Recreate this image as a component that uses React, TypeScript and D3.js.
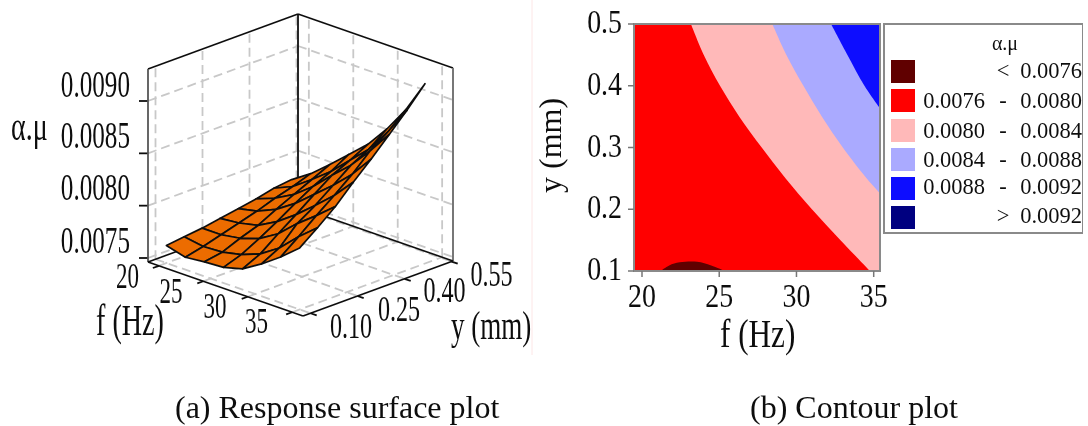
// App.tsx
import React from 'react';
import * as d3 from 'd3';

const SERIF = '"Liberation Serif", serif';

// surface nodes
const fGrid = [20, 22.14, 24.29, 26.43, 28.57, 30.71, 32.86, 35];
const yGrid = [0.1, 0.157, 0.214, 0.271, 0.329, 0.386, 0.443, 0.5];
const zRow0 = [0.00763, 0.00758, 0.0076, 0.00761, 0.00766, 0.00777, 0.0079, 0.00805];
const zRow1 = [0.00765, 0.00762, 0.00763, 0.00767, 0.00774, 0.00786, 0.00803, 0.00818];
const zRow2 = [0.00767, 0.00767, 0.0077, 0.00776, 0.00787, 0.00803, 0.00817, 0.00832];
const zRow3 = [0.0077, 0.00772, 0.00776, 0.00786, 0.00799, 0.00814, 0.0083, 0.00849];
const zRow4 = [0.00773, 0.00777, 0.00785, 0.00797, 0.00812, 0.00827, 0.00844, 0.00865];
const zRow5 = [0.00776, 0.00783, 0.00793, 0.00807, 0.00824, 0.0084, 0.0086, 0.00882];
const zRow6 = [0.0078, 0.00788, 0.00801, 0.00815, 0.00832, 0.00849, 0.00872, 0.00899];
const zRow7 = [0.00782, 0.00794, 0.00809, 0.00825, 0.00841, 0.00862, 0.00887, 0.00918];
const zRows = [zRow0, zRow1, zRow2, zRow3, zRow4, zRow5, zRow6, zRow7];

const fTicks = [20, 25, 30, 35];
const yTicks3d = [0.1, 0.25, 0.4, 0.55];
const zTicks = [0.0075, 0.008, 0.0085, 0.009];

// contour boundaries, [f, y]
const line0076: [number, number][] = [[21.2, 0.1], [21.76, 0.109], [22.44, 0.114], [23.57, 0.115], [24.48, 0.109], [25.38, 0.1]];
const line0080: [number, number][] = [[23.17, 0.5], [24.0, 0.45], [25.05, 0.4], [26.3, 0.35], [27.75, 0.3], [29.3, 0.25], [31, 0.2], [32.85, 0.15], [34.77, 0.1]];
const line0084: [number, number][] = [[28.44, 0.5], [29.35, 0.45], [30.45, 0.4], [31.65, 0.35], [33, 0.3], [34.55, 0.25], [35.45, 0.225]];
const line0088: [number, number][] = [[32.24, 0.5], [33.3, 0.45], [34.4, 0.4], [35.45, 0.362]];
const contourF = [20, 25, 30, 35];
const contourY = [0.1, 0.2, 0.3, 0.4, 0.5];

const legendLow = ['', '0.0076', '0.0080', '0.0084', '0.0088', ''];
const legendMid = ['<', '-', '-', '-', '-', '>'];
const legendHigh = ['0.0076', '0.0080', '0.0084', '0.0088', '0.0092', '0.0092'];
const legendColors = ['#600000', '#ff0000', '#ffb9b9', '#aaaaff', '#0f0fff', '#000080'];

// 3d box projection
const fFrac = d3.scaleLinear().domain([20, 35]).range([0.07, 0.93]);
const yFrac = d3.scaleLinear().domain([0.1, 0.55]).range([0.05, 0.99]);
const zLift = d3.scaleLinear().domain([0.0075, 0.009]).range([4, 161]);
const zTop = 193;
const project = (u: number, v: number, lift: number): [number, number] => [
  148 + 155 * u + 150 * v,
  262 + 54 * u - 55 * v - lift,
];

// contour scales
const xC = d3.scaleLinear().domain([20, 35]).range([642, 873.7]);
const yC = d3.scaleLinear().domain([0.1, 0.5]).range([271, 24]);
const fMax = xC.invert(880);
const curveLine = d3.line<[number, number]>().x(d => xC(d[0])).y(d => yC(d[1])).curve(d3.curveCatmullRom);

const bandPath = (pts: [number, number][]) => {
  const last = pts[pts.length - 1];
  return `${curveLine(pts)}L${xC(fMax)},${yC(last[1])}L${xC(fMax)},${yC(0.5)}Z`;
};

const Squeezed = ({ x, y, sx = 1, size, anchor = 'start', children }: any) => (
  <text transform={`translate(${x},${y}) scale(${sx},1)`} fontSize={size} textAnchor={anchor} fill="#111">{children}</text>
);

const Seg = ({ a, b, ...rest }: any) => <line x1={a[0]} y1={a[1]} x2={b[0]} y2={b[1]} {...rest} />;

const dash = { stroke: '#c8c8c8', strokeWidth: 1.8, strokeDasharray: '9 5', fill: 'none' };
const solid = { stroke: '#111', strokeWidth: 1.8 };

const Surface = () => {
  const cells: React.ReactNode[] = [];
  for (let j = yGrid.length - 2; j >= 0; j--) {
    for (let i = 0; i < fGrid.length - 1; i++) {
      const corner = (a: number, b: number) => project(fFrac(fGrid[a]), yFrac(yGrid[b]), zLift(zRows[b][a]));
      const pts = [corner(i, j), corner(i + 1, j), corner(i + 1, j + 1), corner(i, j + 1)];
      cells.push(<polygon key={`${i}-${j}`} points={pts.join(' ')} fill="#ec6c00" stroke="#111" strokeWidth={1.7} strokeLinejoin="round" />);
    }
  }
  return <g>{cells}</g>;
};

export default function App() {
  return (
    <svg width={1088} height={426} style={{ position: 'absolute', left: 0, top: 0 }} fontFamily={SERIF}>
      <defs>
        <filter id="soft" x="0" y="0" width="100%" height="100%">
          <feGaussianBlur stdDeviation="0.5" />
        </filter>
      </defs>
      <rect width={1088} height={426} fill="#fff" />
      <g filter="url(#soft)">
        <line x1={532} x2={532} y1={0} y2={355} stroke="#fde6e6" />

        {/* walls and floor grid */}
        {zTicks.map(z => (
          <g key={z}>
            <Seg a={project(0, 0, zLift(z))} b={project(0, 1, zLift(z))} {...dash} />
            <Seg a={project(0, 1, zLift(z))} b={project(1, 1, zLift(z))} {...dash} />
            <Seg a={project(0, 0, zLift(z))} b={[project(0, 0, 0)[0] - 9, project(0, 0, zLift(z))[1]]} {...solid} />
          </g>
        ))}
        {yTicks3d.map(t => (
          <g key={t}>
            <Seg a={project(0, yFrac(t), 0)} b={project(0, yFrac(t), zTop)} {...dash} />
            <Seg a={project(0, yFrac(t), 0)} b={project(1, yFrac(t), 0)} {...dash} />
            <Seg a={project(1, yFrac(t), 0)} b={project(1.04, yFrac(t), 0)} {...solid} />
          </g>
        ))}
        {fTicks.map(t => (
          <g key={t}>
            <Seg a={project(fFrac(t), 1, 0)} b={project(fFrac(t), 1, zTop)} {...dash} />
            <Seg a={project(fFrac(t), 0, 0)} b={project(fFrac(t), 1, 0)} {...dash} />
            <Seg a={project(fFrac(t), 0, 0)} b={project(fFrac(t), -0.04, 0)} {...solid} />
          </g>
        ))}

        {/* box */}
        <Seg a={project(0, 0, zTop)} b={project(0, 1, zTop)} {...solid} />
        <Seg a={project(0, 1, zTop)} b={project(1, 1, zTop)} {...solid} />
        <Seg a={project(0, 0, 0)} b={project(0, 0, zTop)} {...solid} stroke="#555" />
        <Seg a={project(0, 1, 0)} b={project(0, 1, zTop)} {...solid} />
        <Seg a={project(1, 1, 0)} b={project(1, 1, zTop)} stroke="#777" strokeWidth={2} />
        <Seg a={project(0, 0, 0)} b={project(0, 1, 0)} {...solid} />
        <Seg a={project(0, 1, 0)} b={project(1, 1, 0)} {...solid} />
        <Seg a={project(0, 0, 0)} b={project(1, 0, 0)} {...solid} />
        <Seg a={project(1, 0, 0)} b={project(1, 1, 0)} {...solid} />

        <Surface />

        {/* 3d labels */}
        {zTicks.map((z, i) => (
          <Squeezed key={z} x={130} y={[253, 200, 148, 97][i]} sx={0.68} size={37} anchor="end">{d3.format('.4f')(z)}</Squeezed>
        ))}
        <Squeezed x={11} y={140} sx={0.7} size={40}>α.μ</Squeezed>
        {fTicks.map((t, i) => (
          <Squeezed key={t} x={[127.5, 171, 215, 256.5][i]} y={[288, 303, 318, 333][i]} sx={0.64} size={36} anchor="middle">{t}</Squeezed>
        ))}
        {yTicks3d.map((t, i) => (
          <Squeezed key={t} x={[351, 399, 444.5, 491.5][i]} y={[338, 320.5, 302, 286][i]} sx={0.67} size={36} anchor="middle">{t.toFixed(2)}</Squeezed>
        ))}
        <Squeezed x={96} y={335} sx={0.64} size={44}>f (Hz)</Squeezed>
        <Squeezed x={451} y={339} sx={0.66} size={41}>y (mm)</Squeezed>

        {/* contour plot */}
        <rect x={xC(fMax) - 246} y={yC(0.5)} width={246} height={247} fill="#ff0000" />
        <path d={bandPath(line0080)} fill="#ffb9b9" />
        <path d={bandPath(line0084)} fill="#aaaaff" />
        <path d={bandPath(line0088)} fill="#0f0fff" />
        <path d={`${curveLine(line0076)}Z`} fill="#600000" />
        <rect x={xC(fMax) - 246} y={yC(0.5)} width={246} height={247} fill="none" stroke="#8a8a8a" strokeWidth={2} />
        {contourF.map(t => (
          <g key={t}>
            <line x1={xC(t)} x2={xC(t)} y1={271} y2={277} stroke="#777" strokeWidth={1.5} />
            <Squeezed x={xC(t)} y={306.5} sx={0.82} size={34} anchor="middle">{t}</Squeezed>
          </g>
        ))}
        {contourY.map(t => (
          <g key={t}>
            <line x1={628} x2={634} y1={yC(t)} y2={yC(t)} stroke="#777" strokeWidth={1.5} />
            <Squeezed x={622} y={yC(t) + 9} sx={0.82} size={34} anchor="end">{t.toFixed(1)}</Squeezed>
          </g>
        ))}
        <Squeezed x={720} y={347} sx={0.8} size={39}>f (Hz)</Squeezed>
        <text transform="translate(561,193) rotate(-90)" fontSize={32} fill="#111">y (mm)</text>

        {/* legend */}
        <rect x={884} y={24} width={199} height={209} fill="#fff" stroke="#8a8a8a" strokeWidth={2} />
        <text x={1005} y={50} fontSize={20} textAnchor="middle" fill="#111">α.μ</text>
        {legendColors.map((c, i) => {
          const top = [60, 89, 119, 148, 177, 206][i];
          const base = [78, 108, 138, 167, 194, 223][i];
          return (
            <g key={c}>
              <rect x={891} y={top} width={24} height={23} fill={c} />
              <text x={985} y={base} fontSize={22.5} textAnchor="end" fill="#111">{legendLow[i]}</text>
              <text x={1003} y={base} fontSize={22.5} textAnchor="middle" fill="#111">{legendMid[i]}</text>
              <text x={1082} y={base} fontSize={22.5} textAnchor="end" fill="#111">{legendHigh[i]}</text>
            </g>
          );
        })}

        {/* captions */}
        <text x={175} y={418} fontSize={32} fill="#111">(a) Response surface plot</text>
        <text x={750} y={418} fontSize={32} fill="#111">(b) Contour plot</text>
      </g>
    </svg>
  );
}
